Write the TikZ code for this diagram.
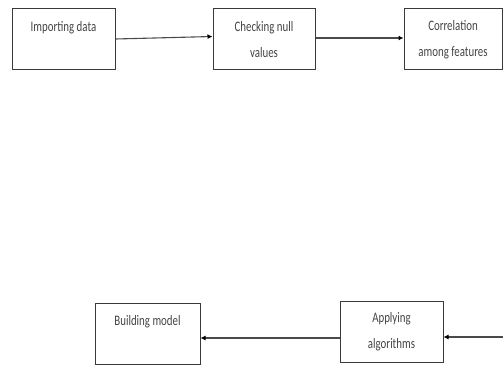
\documentclass[tikz,border=0pt]{standalone}
\usepackage{fontspec}
\setmainfont{Carlito}[FakeStretch=0.75]
\usetikzlibrary{arrows.meta}
\definecolor{boxgray}{HTML}{3A3A3A}
\definecolor{textgray}{HTML}{444444}
\definecolor{arrgray}{HTML}{4A4A4A}
\tikzset{
  box/.style={draw=boxgray, line width=1pt, minimum height=61pt, align=center,
    text=textgray, inner sep=0pt, font=\fontsize{14.5}{26}\selectfont},
  conn/.style={draw=arrgray, line width=1.1pt, -{Latex[length=5pt,width=5pt,color=black]}}
}
\begin{document}
\begin{tikzpicture}[x=1pt,y=-1pt]
\useasboundingbox (0,0) rectangle (503,366);
\node[box, minimum width=103pt] (imp) at (63.5,39.5) {Importing data\\~};
\node[box, minimum width=102pt] (chk) at (264,39.5) {Checking null\\values};
\node[box, minimum width=98pt] (cor) at (453,39.5) {Correlation\\among features};
\node[box, minimum width=105pt] (bld) at (147.5,333.5) {Building model\\~};
\node[box, minimum width=103pt] (app) at (391.5,332) {Applying\\algorithms};
\coordinate (rin) at (503,337);
\draw[conn] (imp.east |- 0,39) -- (chk.west |- 0,36.5);
\draw[conn] (chk.east |- 0,38) -- (cor.west |- 0,38);
\draw[conn] (rin) -- (app.east |- rin);
\draw[conn] (app.west |- 0,338) -- (bld.east |- 0,338);
\end{tikzpicture}
\end{document}
